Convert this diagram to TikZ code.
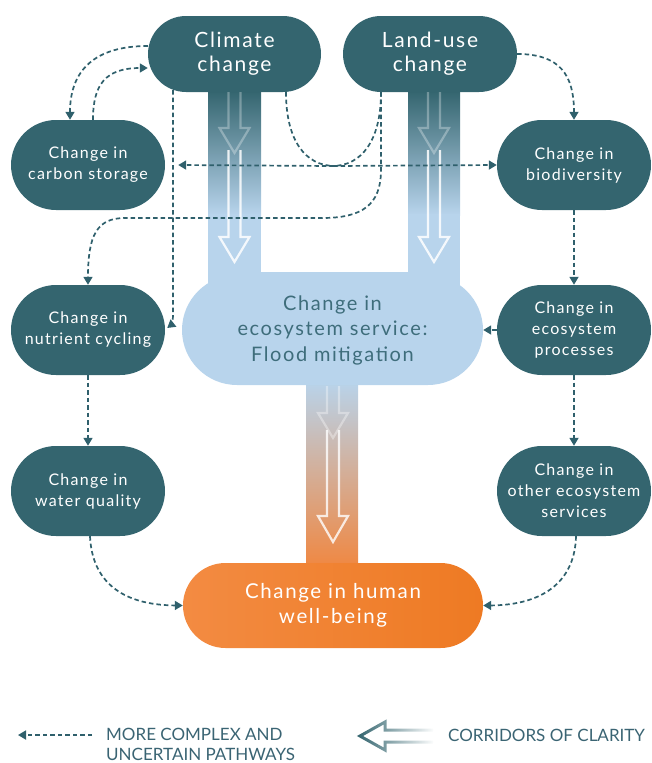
\documentclass[tikz,border=0pt]{standalone}
\usepackage{fontspec}
\setmainfont{Lato}[LetterSpace=8]
\newfontfamily\legendfont{Lato}
\usetikzlibrary{arrows.meta,shapes.misc,backgrounds,calc,fadings}
\definecolor{nodeteal}{RGB}{52,101,111}
\definecolor{dashc}{RGB}{47,96,108}
\definecolor{lightblue}{RGB}{184,212,236}
\definecolor{floodtext}{RGB}{62,109,123}
\definecolor{orangeL}{RGB}{243,139,66}
\definecolor{orangeR}{RGB}{238,122,35}
\definecolor{orangeC}{RGB}{240,135,65}
\definecolor{legendtext}{RGB}{58,100,115}
\newcommand\corarrow[5]{\draw[#5] (#1-6,#2) -- (#1-6,#3) -- (#1-15,#3) -- (#1,#4) -- (#1+15,#3) -- (#1+6,#3) -- (#1+6,#2);}
\tikzset{
  pill/.style={rounded rectangle, inner sep=0pt, align=center},
  tealpill/.style={pill, fill=nodeteal, text=white, minimum width=154pt, minimum height=90pt, font=\fontsize{16}{21}\selectfont},
  toppill/.style={pill, fill=nodeteal, text=white, minimum height=76pt, font=\fontsize{21}{24}\selectfont},
  dashline/.style={draw=dashc, line width=1.7pt, dash pattern=on 4.5pt off 3pt, -{Triangle[length=8pt,width=9pt]}},
  ghostarrow/.style={draw=white, line width=2.2pt, line join=miter},
  legendstyle/.style={text=legendtext, font=\legendfont\fontsize{17}{20}\selectfont, inner sep=0pt}
}
\begin{document}
\begin{tikzpicture}[x=1pt,y=-1pt]
\useasboundingbox (0,0) rectangle (651,763);
% nodes
\node[toppill, minimum width=173pt] (cc) at (234.5,54) {Climate\\change};
\node[toppill, minimum width=174pt] (lu) at (430,54) {Land-use\\change};
\node[tealpill] (cs) at (88,165) {Change in\\carbon storage};
\node[tealpill] (bd) at (574,165) {Change in\\biodiversity};
\node[tealpill] (nc) at (88,330) {Change in\\nutrient cycling};
\node[tealpill] (ep) at (574,330) {Change in\\ecosystem\\processes};
\node[tealpill] (wq) at (88,491) {Change in\\water quality};
\node[tealpill] (oe) at (574,491) {Change in\\other ecosystem\\services};
\node[pill, fill=lightblue, text=floodtext, minimum width=301pt, minimum height=110pt, font=\fontsize{20}{25.5}\selectfont] (fm) at (332.5,330) {Change in\\ecosystem service:\\Flood mitigation};
\node[pill, left color=orangeL, right color=orangeR, text=white, minimum width=300pt, minimum height=85pt, font=\fontsize{20.5}{25.5}\selectfont] (hw) at (333,605.5) {Change in human\\well-being};
% corridors
\begin{scope}[on background layer]
  \shade[top color=nodeteal, bottom color=lightblue] (208,91) rectangle (261,215);
  \shade[top color=nodeteal, bottom color=lightblue] (408,91) rectangle (460,215);
  \fill[lightblue] (208,214) rectangle (261,300);
  \fill[lightblue] (408,214) rectangle (460,300);
  \fill[lightblue] (208,272) rectangle (460,300);
  \shade[top color=lightblue, bottom color=orangeC] (306,380) rectangle (358,568);
\end{scope}
% corridor arrows
\corarrow{234.5}{92}{128}{153}{ghostarrow, opacity=0.3}
\corarrow{234.5}{150}{237}{262}{ghostarrow, opacity=0.85}
\corarrow{434}{92}{128}{153}{ghostarrow, opacity=0.3}
\corarrow{434}{150}{237}{262}{ghostarrow, opacity=0.85}
\corarrow{333}{386}{413}{438}{ghostarrow, opacity=0.35}
\corarrow{333}{430}{516}{542}{ghostarrow, opacity=0.8}
% dashed connectors
\draw[dashline] ($(cc.west)+(0,-8)$) .. controls (95,46) and (70,70) .. ($(cs.north)+(-18,0)$);
\draw[dashline] ($(cs.north)+(5,0)$) .. controls (93,85) and (105,68) .. ($(cc.west)+(0,14)$);
\draw[dashline] ($(cc.south)+(-61.5,-2)$) -- (173,316) .. controls (173,322) and (171,325) .. ($(nc.east)+(2,-2)$);
\draw[dashline] ($(cc.south)+(51.5,0)$) .. controls (286,140) and (305,166) .. (335,166) -- (bd.west);
\draw[dashline] ($(lu.south)+(-49,0)$) .. controls (381,140) and (362,166) .. (332,166) -- ($(cs.east)+(13,0)$);
\draw[dashline] ($(lu.south)+(-49,0)$) -- (381,170) .. controls (381,205) and (362,218) .. (322,218) -- (125,218) .. controls (97,218) and (88,235) .. (nc.north);
\draw[dashline] (lu.east) .. controls (560,54) and (574,75) .. (bd.north);
\draw[dashline] (bd.south) -- (ep.north);
\draw[dashline] (ep.west) -- (fm.east);
\draw[dashline] (ep.south) -- (oe.north);
\draw[dashline] (nc.south) -- (wq.north);
\draw[dashline] ($(wq.south)+(2,0)$) .. controls (92,580) and (120,605) .. (hw.west);
\draw[dashline] ($(oe.south)+(2,0)$) .. controls (575,580) and (545,605) .. (hw.east);
% legend
\coordinate (la) at (92,735);
\coordinate (lb) at (18,735);
\draw[dashline] (la) -- (lb);
\node[legendstyle, anchor=west, align=left] (lt1) at (106,744.5) {MORE COMPLEX AND\\UNCERTAIN PATHWAYS};
\draw[draw=nodeteal, line width=3pt, line join=miter, path fading=east] (433,730) -- (385,730) -- (385,722) -- (360,736) -- (385,750) -- (385,742) -- (433,742);
\node[legendstyle, anchor=west] (lt2) at (448,735) {CORRIDORS OF CLARITY};
\end{tikzpicture}
\end{document}
